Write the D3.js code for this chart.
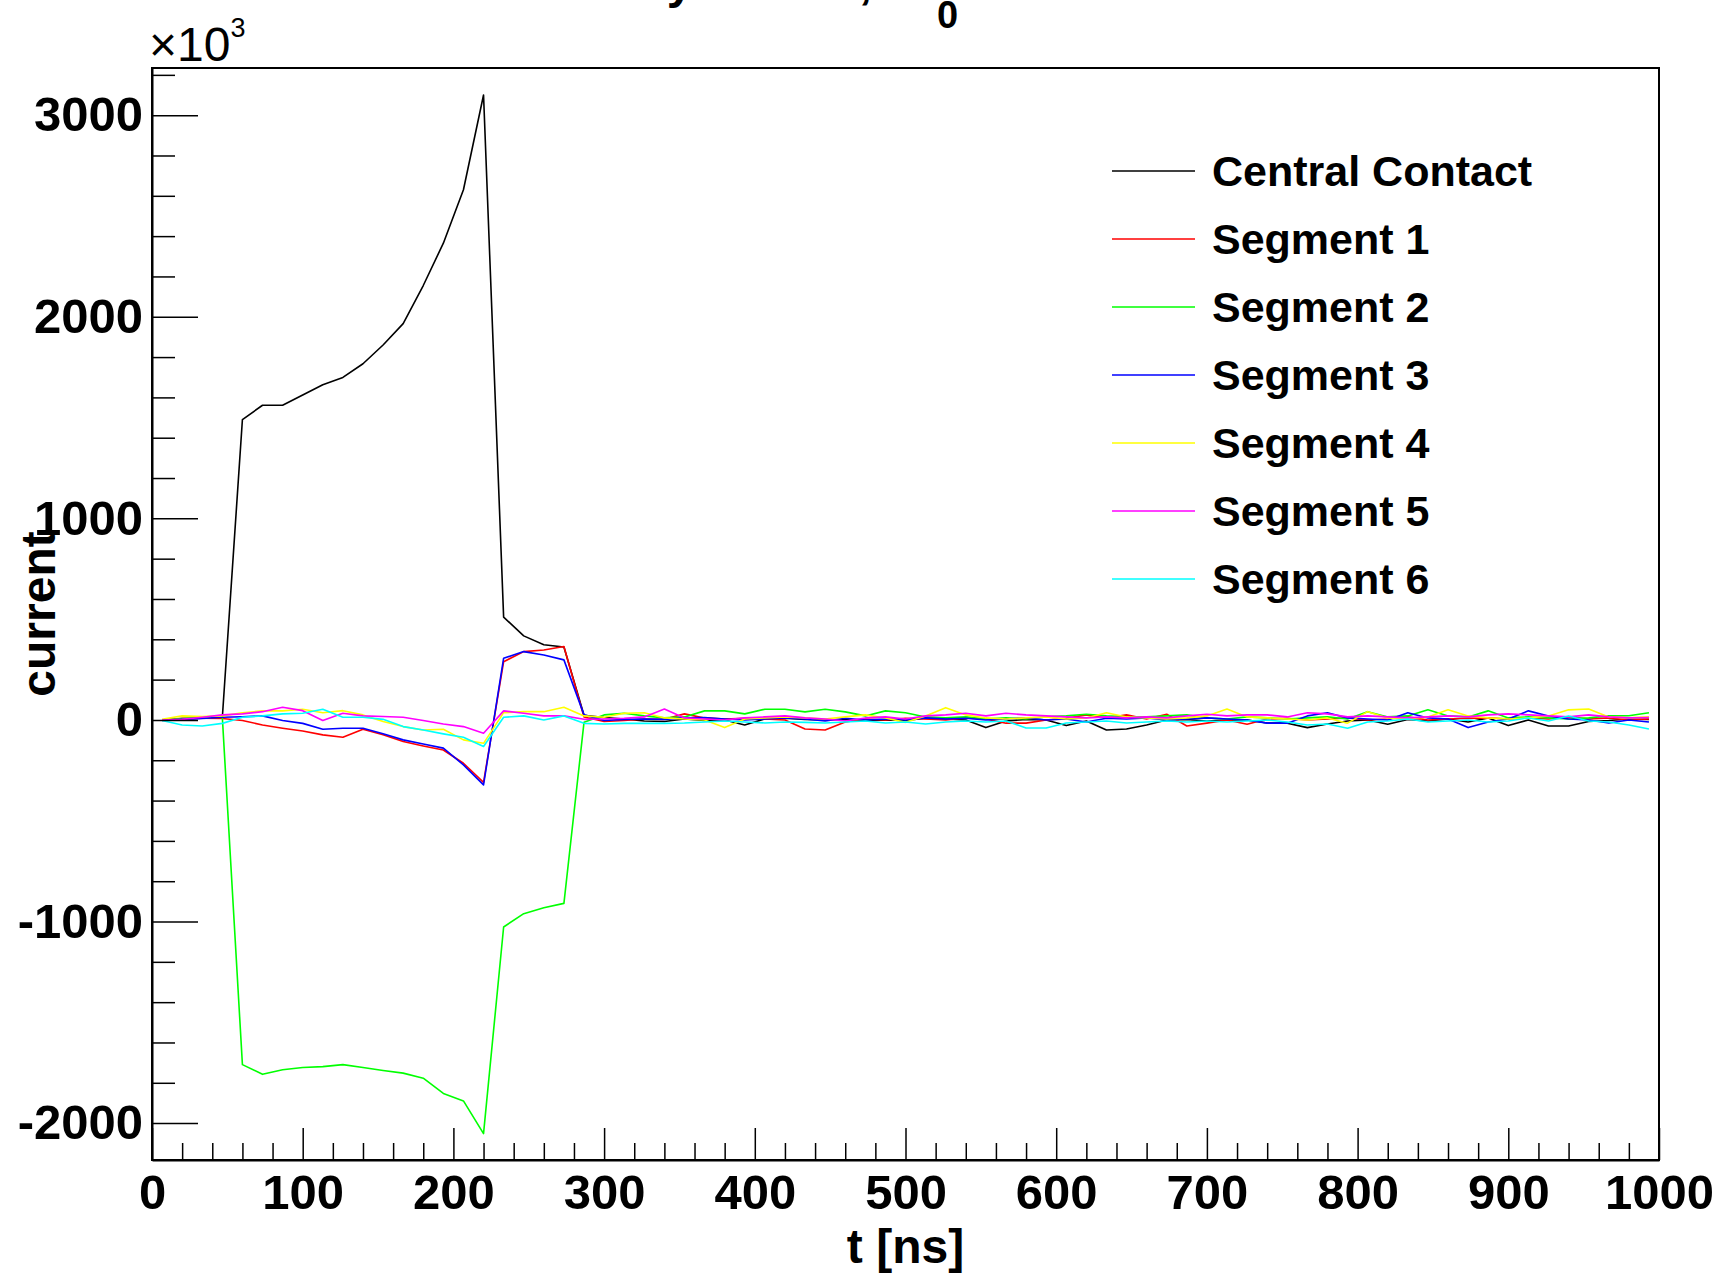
<!DOCTYPE html>
<html>
<head>
<meta charset="utf-8">
<script src="https://cdn.jsdelivr.net/npm/d3@7"></script>
<style>
  body { margin: 0; background: #fff; }
  text { font-family: "Liberation Sans", Arial, Helvetica, sans-serif; }
</style>
</head>
<body>
<div id="chart"></div>
<script>
// histogram: 75 bins over 0..1000 ns, values in units of 10^3
var nBins = 75, tMin = 0, tMax = 1000;
var binCenters = d3.range(nBins).map(function (i) { return tMin + (i + 0.5) * (tMax - tMin) / nBins; });

var seriesNames = ["Central Contact", "Segment 1", "Segment 2", "Segment 3", "Segment 4", "Segment 5", "Segment 6"];
var seriesColors = ["#000000", "#ff0000", "#00ff00", "#0000ff", "#ffff00", "#ff00ff", "#00ffff"];

var central = [
  0, 5, 8, 12, 1490, 1561, 1561, 1612, 1663, 1699, 1767, 1860, 1966, 2155, 2365,
  2630, 3100, 510, 417, 373, 362, 23, 12, 5, -5, -8, 5, -2, 0, -25,
  5, 8, 2, 0, 2, -5, 0, -2, 8, 5, 0, -38, -5, 2, 0,
  -28, -5, -50, -45, -25, 0, 2, -5, 0, 0, -15, -16, -38, -20, -5,
  0, -21, 2, -5, 5, -10, 10, -28, 0, -30, -30, -8, -3, 5, 2
];
var seg1 = [
  0, 8, 8, 7, -3, -25, -41, -55, -74, -86, -46, -74, -107, -129, -149,
  -215, -310, 289, 339, 347, 364, 15, -8, -3, 5, 3, 30, 10, 5, 8,
  5, 0, -45, -50, -10, 5, 0, 8, 5, 0, 10, 5, -16, -16, 0,
  8, 25, 10, 25, 5, 28, -30, -16, 0, -21, 5, 8, 0, 5, 10,
  0, 5, 15, 0, 5, 8, 10, 5, 10, 5, 15, 5, 10, 0, 5
];
var seg2 = [
  0, 7, 13, 13, -1710, -1758, -1735, -1724, -1720, -1710, -1724, -1739, -1752, -1777, -1853,
  -1890, -2052, -1027, -961, -932, -910, -12, 25, 33, 20, 10, 15, 45, 45, 30,
  53, 53, 40, 53, 40, 20, 45, 36, 15, 10, 15, 5, 10, 5, 15,
  20, 28, 20, 15, 15, 20, 25, 10, 5, 15, 10, 5, 10, 15, 5,
  41, 15, 20, 50, 20, 15, 45, 10, 15, 10, 5, 10, 20, 21, 36
];
var seg3 = [
  -3, 3, 7, 13, 16, 20, -3, -17, -46, -41, -41, -69, -99, -119, -140,
  -223, -322, 306, 339, 322, 298, 25, -3, 3, 5, 3, 10, 12, 5, 0,
  5, 10, 5, -5, 8, 0, 5, 0, 10, 5, 8, 0, 5, 10, 0,
  5, -10, 8, 5, 10, 0, 5, 10, 5, 0, -16, -16, 20, 36, 10,
  5, 0, 36, 10, 5, -38, -10, 5, 45, 20, 5, 0, -15, 0, -10
];
var seg4 = [
  3, 20, 17, 20, 36, 45, 45, 53, 36, 46, 25, -8, -33, -50, -46,
  -99, -116, 36, 41, 41, 63, 20, 13, 33, 36, 10, 5, 0, -38, 5,
  10, 15, 10, 5, 15, 25, 10, -12, 20, 61, 25, 10, 5, 10, 15,
  5, 10, 36, 15, 10, 5, 10, 20, 54, 15, 10, 5, 0, 10, -16,
  41, 10, 5, 15, 50, 20, 10, 5, 10, 20, 50, 54, 15, 10, 15
];
var seg5 = [
  0, 3, 13, 25, 30, 41, 63, 46, -3, 33, 20, 17, 13, -3, -20,
  -33, -66, 45, 33, 20, 20, 3, 5, 8, 15, 54, 10, 5, 0, 10,
  15, 20, 10, 5, -5, 10, 15, 5, 20, 25, 33, 20, 33, 25, 20,
  15, 10, 15, 10, 15, 10, 20, 28, 20, 25, 25, 15, 36, 30, 15,
  20, 15, 10, 15, 20, 15, 25, 30, 25, 20, 15, 25, 15, 10, 12
];
var seg6 = [
  -3, -25, -30, -17, 13, 20, 30, 33, 53, 13, 13, 3, -33, -50, -69,
  -86, -132, 13, 20, 0, 20, -17, -20, -17, -17, -17, -15, -10, -5, -10,
  -15, -10, -12, -15, -10, -5, -15, -10, -20, -10, -5, -10, -5, -40, -40,
  -15, -10, -5, -15, -10, -5, -10, -5, -10, -5, 0, -10, -25, -20, -41,
  -10, -5, 5, -10, -5, 0, -10, -5, 10, -5, 20, -5, -10, -25, -45
];
var seriesValues = [central, seg1, seg2, seg3, seg4, seg5, seg6];

var xMajor = d3.range(0, 1001, 100);
var xMinor = d3.range(0, 1001, 20).filter(function (v) { return v % 100 !== 0; });
var yMajor = [-2000, -1000, 0, 1000, 2000, 3000];
var yMinor = d3.range(-2000, 3201, 200).filter(function (v) { return v % 1000 !== 0; });

var W = 1717, H = 1274;
var margin = {top: 68, right: 58, bottom: 114, left: 152},
    width = W - margin.left - margin.right,
    height = H - margin.top - margin.bottom;

var root = d3.select("#chart")
  .append("svg")
    .attr("width", W)
    .attr("height", H);

var svg = root.append("g")
    .attr("transform", "translate(" + margin.left + "," + margin.top + ")");

var x = d3.scaleLinear()
  .domain([tMin, tMax])
  .range([0, width]);

var y = d3.scaleLinear()
  .domain([-2183, 3234])
  .range([height, 0]);

// plain hyphen minus like the original, not the unicode minus
var fmt = function (d) { return String(d); };

// lines
var line = d3.line()
  .x(function (d, i) { return x(binCenters[i]); })
  .y(function (d) { return y(d); });

svg.append("g")
  .selectAll("path")
  .data(seriesValues)
  .enter()
  .append("path")
    .attr("d", line)
    .attr("fill", "none")
    .attr("stroke", function (d, i) { return seriesColors[i]; })
    .attr("stroke-width", 1.6)
    .attr("stroke-linejoin", "round");

// frame
svg.append("rect")
  .attr("width", width)
  .attr("height", height)
  .attr("fill", "none")
  .attr("stroke", "#000")
  .attr("stroke-width", 2);

// x axis, ticks pointing inward
svg.append("g")
  .attr("transform", "translate(0," + height + ")")
  .call(d3.axisBottom(x).tickValues(xMajor).tickSize(-32).tickSizeOuter(0).tickPadding(14).tickFormat(fmt));
svg.append("g")
  .attr("transform", "translate(0," + height + ")")
  .call(d3.axisBottom(x).tickValues(xMinor).tickSize(-17).tickSizeOuter(0).tickFormat(""))
  .select(".domain").remove();

svg.append("g")
  .call(d3.axisLeft(y).tickValues(yMajor).tickSize(-46).tickSizeOuter(0).tickPadding(9).tickFormat(fmt));
svg.append("g")
  .call(d3.axisLeft(y).tickValues(yMinor).tickSize(-23).tickSizeOuter(0).tickFormat(""))
  .select(".domain").remove();

svg.selectAll(".tick line").attr("stroke", "#000").attr("stroke-width", 1.5);
svg.selectAll(".domain").attr("stroke", "#000").attr("stroke-width", 2);
svg.selectAll(".tick text")
  .attr("fill", "#000")
  .style("font-size", "49px")
  .style("font-weight", "bold")
  .style("font-family", "'Liberation Sans', Arial, sans-serif");

// axis titles
svg.append("text")
  .attr("text-anchor", "middle")
  .attr("x", width / 2)
  .attr("y", 1263 - margin.top)
  .style("font-size", "48px")
  .style("font-weight", "bold")
  .text("t [ns]");

svg.append("text")
  .attr("text-anchor", "middle")
  .attr("transform", "rotate(-90)")
  .attr("x", -height / 2)
  .attr("y", 55 - margin.left)
  .style("font-size", "48px")
  .style("font-weight", "bold")
  .text("current");

// exponent
var expo = root.append("text")
  .attr("x", 149)
  .attr("y", 61)
  .style("font-size", "48px");
expo.append("tspan").text("\u00d710");
expo.append("tspan").attr("dy", -24).style("font-size", "27px").text("3");

// title, mostly above the page edge as in the original
root.append("text")
  .attr("text-anchor", "end")
  .attr("x", 936)
  .attr("y", -2)
  .style("font-size", "48px")
  .style("font-weight", "bold")
  .text("Current vs. time by events, \u0394t");
root.append("text")
  .attr("x", 937)
  .attr("y", 28)
  .style("font-size", "38px")
  .style("font-weight", "bold")
  .text("0");

// legend
var legend = root.append("g")
  .attr("transform", "translate(1112,171)");
var rows = legend.selectAll("g")
  .data(seriesNames)
  .enter()
  .append("g")
    .attr("transform", function (d, i) { return "translate(0," + (i * 68) + ")"; });
rows.append("line")
  .attr("x1", 0)
  .attr("x2", 83)
  .attr("stroke", function (d, i) { return seriesColors[i]; })
  .attr("stroke-width", 1.6);
rows.append("text")
  .attr("x", 100)
  .attr("y", 15)
  .style("font-size", "43px")
  .style("font-weight", "bold")
  .text(function (d) { return d; });
</script>
</body>
</html>
